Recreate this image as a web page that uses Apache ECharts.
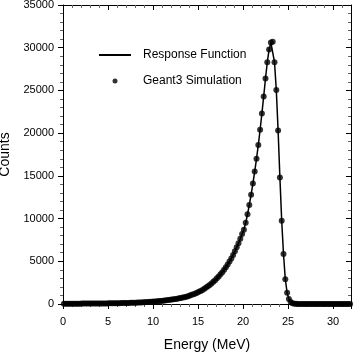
<!DOCTYPE html>
<html>
<head>
<meta charset="utf-8">
<script src="https://cdn.jsdelivr.net/npm/echarts@6/dist/echarts.min.js"></script>
<style>
  html, body { margin: 0; padding: 0; background: #fff; }
  #main { width: 354px; height: 354px; }
</style>
</head>
<body>
<div id="main"></div>
<script>
// bin centres (MeV)
const energy = [
  0.1, 0.3, 0.5, 0.7, 0.9, 1.1, 1.3, 1.5, 1.7, 1.9,
  2.1, 2.3, 2.5, 2.7, 2.9, 3.1, 3.3, 3.5, 3.7, 3.9,
  4.1, 4.3, 4.5, 4.7, 4.9, 5.1, 5.3, 5.5, 5.7, 5.9,
  6.1, 6.3, 6.5, 6.7, 6.9, 7.1, 7.3, 7.5, 7.7, 7.9,
  8.1, 8.3, 8.5, 8.7, 8.9, 9.1, 9.3, 9.5, 9.7, 9.9,
  10.1, 10.3, 10.5, 10.7, 10.9, 11.1, 11.3, 11.5, 11.7, 11.9,
  12.1, 12.3, 12.5, 12.7, 12.9, 13.1, 13.3, 13.5, 13.7, 13.9,
  14.1, 14.3, 14.5, 14.7, 14.9, 15.1, 15.3, 15.5, 15.7, 15.9,
  16.1, 16.3, 16.5, 16.7, 16.9, 17.1, 17.3, 17.5, 17.7, 17.9,
  18.1, 18.3, 18.5, 18.7, 18.9, 19.1, 19.3, 19.5, 19.7, 19.9,
  20.1, 20.3, 20.5, 20.7, 20.9, 21.1, 21.3, 21.5, 21.7, 21.9,
  22.1, 22.3, 22.5, 22.7, 22.9, 23.1, 23.3, 23.5, 23.7, 23.9,
  24.1, 24.3, 24.5, 24.7, 24.9, 25.1, 25.3, 25.5, 25.7, 25.9,
  26.1, 26.3, 26.5, 26.7, 26.9, 27.1, 27.3, 27.5, 27.7, 27.9,
  28.1, 28.3, 28.5, 28.7, 28.9, 29.1, 29.3, 29.5, 29.7, 29.9,
  30.1, 30.3, 30.5, 30.7, 30.9, 31.1, 31.3, 31.5, 31.7, 31.9
];

// Geant3 simulation counts
const geant3 = [
  30, 30, 35, 35, 35, 35, 40, 40, 40, 40,
  45, 45, 45, 50, 50, 50, 55, 55, 55, 60,
  60, 65, 65, 70, 70, 75, 80, 80, 85, 90,
  95, 100, 105, 110, 115, 120, 130, 135, 145, 150,
  160, 170, 180, 190, 200, 215, 225, 240, 255, 270,
  285, 305, 320, 340, 360, 385, 410, 435, 460, 490,
  520, 555, 590, 625, 665, 705, 750, 800, 850, 900,
  1000, 1070, 1150, 1230, 1320, 1420, 1530, 1650, 1780, 1920,
  2070, 2230, 2400, 2590, 2790, 3000, 3230, 3470, 3730, 4010,
  4310, 4630, 4970, 5340, 5740, 6170, 6630, 7120, 7640, 8200,
  8700, 9500, 10500, 11600, 12800, 14100, 15500, 17000, 18600, 20400,
  22300, 24300, 26400, 28300, 29800, 30600, 30700, 28300, 25050, 20300,
  14800, 9750, 5850, 2900, 1320, 590, 240, 90, 35, 15,
  10, 10, 10, 10, 10, 10, 10, 10, 10, 10,
  10, 10, 10, 10, 10, 10, 10, 10, 10, 10,
  10, 10, 10, 10, 10, 10, 10, 10, 10, 10
];

// response function (follows the simulation)
const response = geant3.slice();

const font = 'Liberation Sans, Arial, Helvetica, sans-serif';

const pairs = (ys) => energy.map((e, i) => [e, ys[i]]);

const chart = echarts.init(document.getElementById('main'));

function frameAxis(extra, inside) {
  return Object.assign({
    axisLine: { show: true, onZero: false, lineStyle: { color: '#000', width: 1 } },
    splitLine: { show: false },
    axisTick: { show: true, inside: inside, length: 5, lineStyle: { color: '#000' } },
    minorTick: { show: true, splitNumber: 5, length: 3, inside: inside, lineStyle: { color: '#666', width: 1 } },
    minorSplitLine: { show: false }
  }, extra);
}

chart.setOption({
  animation: false,
  backgroundColor: '#fff',
  grid: { left: 63, right: 3, top: 5, bottom: 50, containLabel: false, outerBoundsMode: 'none' },
  legend: {
    orient: 'vertical',
    left: 98,
    top: 49,
    padding: 0,
    itemWidth: 32,
    itemHeight: 5,
    itemGap: 14,
    textStyle: { fontFamily: font, fontSize: 12, color: '#000', padding: [0, 0, 0, 7] },
    data: [
      { name: 'Response Function', itemStyle: { opacity: 0 } },
      { name: 'Geant3 Simulation', icon: 'circle' }
    ]
  },
  xAxis: [
    frameAxis({
      type: 'value', min: 0, max: 32, interval: 5,
      name: 'Energy (MeV)', nameLocation: 'middle', nameGap: 34,
      nameTextStyle: { fontFamily: font, fontSize: 14, color: '#000' },
      axisLabel: { fontFamily: font, fontSize: 11, color: '#000', margin: 12, showMaxLabel: false }
    }, false),
    frameAxis({
      type: 'value', min: 0, max: 32, interval: 5, position: 'top',
      axisLabel: { show: false }
    }, true)
  ],
  yAxis: [
    frameAxis({
      type: 'value', min: 0, max: 35000, interval: 5000,
      name: 'Counts', nameLocation: 'middle', nameGap: 44,
      nameTextStyle: { fontFamily: font, fontSize: 14, color: '#000' },
      axisLabel: { fontFamily: font, fontSize: 11, color: '#000', margin: 9, formatter: (v) => String(v) }
    }, false),
    frameAxis({
      type: 'value', min: 0, max: 35000, interval: 5000, position: 'right',
      axisLabel: { show: false }
    }, true)
  ],
  series: [
    {
      name: 'Geant3 Simulation',
      type: 'scatter',
      xAxisIndex: 0, yAxisIndex: 0,
      symbol: 'circle',
      symbolSize: 6,
      itemStyle: { color: '#000' },
      data: pairs(geant3),
      z: 2
    },
    {
      name: 'Response Function',
      type: 'line',
      xAxisIndex: 0, yAxisIndex: 0,
      symbol: 'none',
      lineStyle: { color: '#000', width: 1.5 },
      itemStyle: { color: '#000' },
      data: pairs(response),
      z: 3
    }
  ]
});
</script>
</body>
</html>
